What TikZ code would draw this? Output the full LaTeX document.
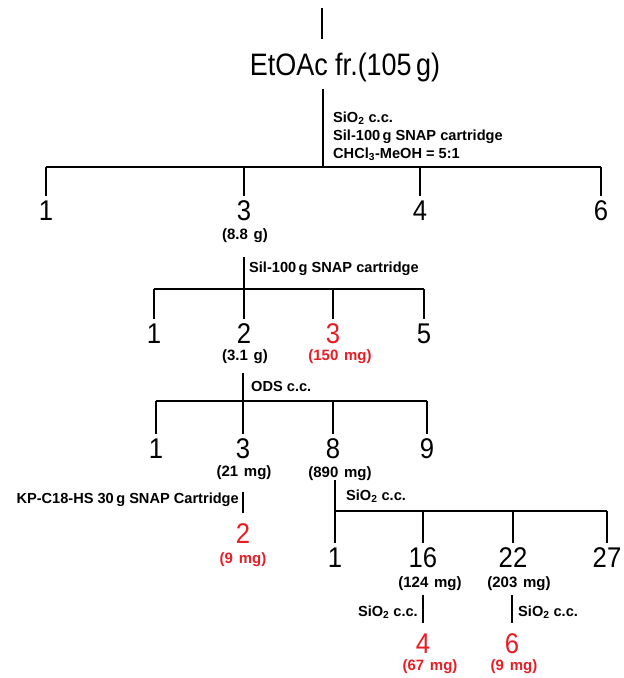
\documentclass[tikz,border=0pt]{standalone}
\usepackage{fontspec}
\usepackage{graphicx}
\setmainfont{Liberation Sans}
\definecolor{cred}{RGB}{232,28,36}
\tikzset{
  bigtxt/.style={font=\fontsize{28.5}{30}\selectfont, inner sep=0pt, anchor=base},
  redbig/.style={bigtxt, text=cred},
  lab/.style={font=\bfseries\fontsize{14.6}{16}\selectfont, inner sep=0pt, anchor=base west},
  labr/.style={lab, anchor=base east},
  mass/.style={font=\bfseries\fontsize{15}{16}\selectfont, inner sep=0pt, anchor=base},
  redmass/.style={mass, text=cred},
  ln/.style={line width=1.4pt, black},
  drop/.style={ln, shorten >=4pt}
}
\newcommand{\nd}[1]{\scalebox{0.9}[1]{#1}}
\newcommand{\msp}{\hspace{0.38em}}
\begin{document}
\begin{tikzpicture}[x=1pt,y=-1pt]
\useasboundingbox (0,0) rectangle (624,678);
% level 0
\coordinate (t0a) at (322,8);
\coordinate (t0b) at (322,39);
\draw[ln] (t0a) -- (t0b);
\node[bigtxt, font=\fontsize{31}{32}\selectfont] (etoac) at (345,75) {\scalebox{0.87}[1]{EtOAc fr.(105\,g)}};
\coordinate (s0) at (323,89);
\coordinate (j0) at (323,167);
\draw[ln] (s0) -- (j0);
\node[lab] (l0a) at (333,122) {SiO\textsubscript{2} c.c.};
\node[lab] (l0b) at (333,140) {Sil-100\,g SNAP cartridge};
\node[lab] (l0c) at (333,158) {CHCl\textsubscript{3}-MeOH = 5:1};
\coordinate (b0a) at (46,167);
\coordinate (b0b) at (601,167);
\draw[ln] (b0a) -- (b0b);
\coordinate (d01) at (46,167);
\coordinate (d03) at (244,167);
\coordinate (d04) at (420,167);
\coordinate (d06) at (601,167);
\node[bigtxt] (n01) at (46,220) {\nd{1}};
\node[bigtxt] (n03) at (244,220) {\nd{3}};
\node[bigtxt] (n04) at (420,220) {\nd{4}};
\node[bigtxt] (n06) at (601,220) {\nd{6}};
\draw[drop] (d01) -- (n01.north);
\draw[drop] (d03) -- (n03.north);
\draw[drop] (d04) -- (n04.north);
\draw[drop] (d06) -- (n06.north);
\node[mass] (m03) at (245,239) {(8.8\msp g)};
% level 1
\coordinate (s1) at (244,257);
\coordinate (j1) at (244,289);
\draw[ln] (s1) -- (j1);
\node[lab] (l1) at (249,272) {Sil-100\,g SNAP cartridge};
\coordinate (b1a) at (154,289);
\coordinate (b1b) at (424,289);
\draw[ln] (b1a) -- (b1b);
\coordinate (d11) at (154,289);
\coordinate (d12) at (244,289);
\coordinate (d13) at (333,289);
\coordinate (d15) at (424,289);
\node[bigtxt] (n11) at (154,343) {\nd{1}};
\node[bigtxt] (n12) at (244,343) {\nd{2}};
\node[redbig] (n13) at (333,343) {\nd{3}};
\node[bigtxt] (n15) at (424,343) {\nd{5}};
\draw[drop] (d11) -- (n11.north);
\draw[drop] (d12) -- (n12.north);
\draw[drop] (d13) -- (n13.north);
\draw[drop] (d15) -- (n15.north);
\node[mass] (m12) at (245,360) {(3.1\msp g)};
\node[redmass] (m13) at (340,360) {(150\msp mg)};
% level 2
\coordinate (s2) at (243,373);
\coordinate (j2) at (243,401);
\draw[ln] (s2) -- (j2);
\node[lab] (l2) at (251,391) {ODS c.c.};
\coordinate (b2a) at (156,401);
\coordinate (b2b) at (427,401);
\draw[ln] (b2a) -- (b2b);
\coordinate (d21) at (156,401);
\coordinate (d23) at (243,401);
\coordinate (d28) at (333,401);
\coordinate (d29) at (427,401);
\node[bigtxt] (n21) at (156,458) {\nd{1}};
\node[bigtxt] (n23) at (243,458) {\nd{3}};
\node[bigtxt] (n28) at (333,458) {\nd{8}};
\node[bigtxt] (n29) at (427,458) {\nd{9}};
\draw[drop] (d21) -- (n21.north);
\draw[drop] (d23) -- (n23.north);
\draw[drop] (d28) -- (n28.north);
\draw[drop] (d29) -- (n29.north);
\node[mass] (m23) at (244,476) {(21\msp mg)};
\node[mass] (m28) at (340,477) {(890\msp mg)};
% branch from 3 (21 mg)
\coordinate (s3a) at (243,492);
\coordinate (e3a) at (243,513);
\draw[ln] (s3a) -- (e3a);
\node[labr] (l3a) at (239,503) {KP-C18-HS 30\,g SNAP Cartridge};
\node[redbig] (r2) at (243,543) {\nd{2}};
\node[redmass] (r2m) at (243,563) {(9\msp mg)};
% branch from 8 (890 mg)
\coordinate (s3b) at (335,480);
\coordinate (j3b) at (335,511);
\draw[ln] (s3b) -- (j3b);
\node[lab] (l3b) at (346,500) {SiO\textsubscript{2} c.c.};
\coordinate (b3a) at (335,511);
\coordinate (b3b) at (607,511);
\draw[ln] (b3a) -- (b3b);
\coordinate (d31) at (335,511);
\coordinate (d316) at (423,511);
\coordinate (d322) at (513,511);
\coordinate (d327) at (607,511);
\node[bigtxt] (n31) at (335,567) {\nd{1}};
\node[bigtxt] (n316) at (423,567) {\nd{16}};
\node[bigtxt] (n322) at (513,567) {\nd{22}};
\node[bigtxt] (n327) at (607,567) {\nd{27}};
\draw[drop] (d31) -- (n31.north);
\draw[drop] (d316) -- (n316.north);
\draw[drop] (d322) -- (n322.north);
\draw[drop] (d327) -- (n327.north);
\node[mass] (m316) at (430,587) {(124\msp mg)};
\node[mass] (m322) at (519,587) {(203\msp mg)};
% final branches
\coordinate (s4a) at (423,595);
\coordinate (e4a) at (423,623);
\draw[ln] (s4a) -- (e4a);
\node[labr] (l4a) at (418,616) {SiO\textsubscript{2} c.c.};
\coordinate (s4b) at (512,595);
\coordinate (e4b) at (512,623);
\draw[ln] (s4b) -- (e4b);
\node[lab] (l4b) at (518,616) {SiO\textsubscript{2} c.c.};
\node[redbig] (r4) at (423,653) {\nd{4}};
\node[redmass] (r4m) at (430,670) {(67\msp mg)};
\node[redbig] (r6) at (512,653) {\nd{6}};
\node[redmass] (r6m) at (514,670) {(9\msp mg)};
\end{tikzpicture}
\end{document}
